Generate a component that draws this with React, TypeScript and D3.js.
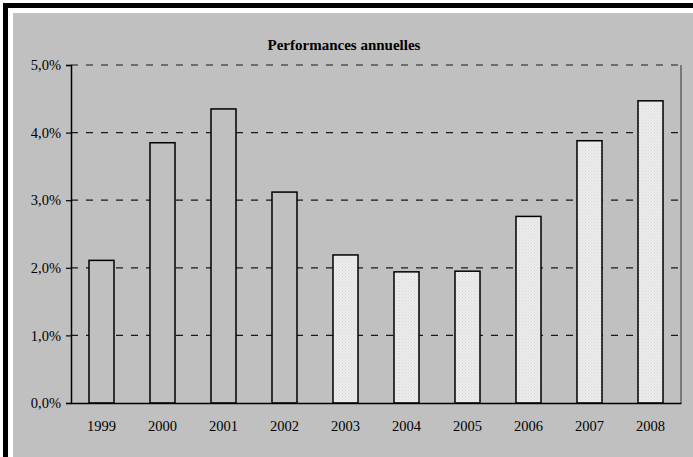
import * as d3 from "d3";
import { useEffect, useRef } from "react";

// Chart data
const years = ["1999", "2000", "2001", "2002", "2003", "2004", "2005", "2006", "2007", "2008"];
const performances = [2.11, 3.85, 4.35, 3.12, 2.19, 1.94, 1.95, 2.76, 3.88, 4.47];
const barStyle = ["plain", "plain", "plain", "plain", "dotted", "dotted", "dotted", "dotted", "dotted", "dotted"];
const yTicks = [0, 1, 2, 3, 4, 5];
const title = "Performances annuelles";

export default function App() {
  const svgRef = useRef<SVGSVGElement>(null);

  useEffect(() => {
    if (!svgRef.current) return;
    const svg = d3.select<SVGSVGElement, unknown>(svgRef.current);
    svg.selectAll("*").remove();

    const width = 693;
    const height = 457;
    const plot = { left: 71, right: 681, top: 65, bottom: 403 };
    const font = "'Liberation Serif', 'Times New Roman', serif";

    svg.attr("width", width).attr("height", height);

    // dotted fill for the light bars
    const defs = svg.append("defs");
    const pat = defs
      .append("pattern")
      .attr("id", "dots")
      .attr("width", 3)
      .attr("height", 3)
      .attr("patternUnits", "userSpaceOnUse");
    pat.append("rect").attr("width", 3).attr("height", 3).attr("fill", "#ececec");
    pat.append("rect").attr("x", 0).attr("y", 0).attr("width", 1).attr("height", 1).attr("fill", "#d6d6d6");
    pat.append("rect").attr("x", 1.5).attr("y", 1.5).attr("width", 1).attr("height", 1).attr("fill", "#dedede");

    // page + frame
    svg.append("rect").attr("width", width).attr("height", height).attr("fill", "#ffffff");
    svg
      .append("rect")
      .attr("x", 13)
      .attr("y", 13)
      .attr("width", width - 13)
      .attr("height", height - 13)
      .attr("fill", "#c0c0c0");
    svg
      .append("path")
      .attr("d", `M5.5,${height} V5.5 H${width}`)
      .attr("fill", "none")
      .attr("stroke", "#000")
      .attr("stroke-width", 5);

    const x = d3
      .scaleBand<string>()
      .domain(years)
      .range([plot.left, plot.right])
      .paddingInner(0.59)
      .paddingOuter(0.295);

    const y = d3.scaleLinear().domain([0, 5]).range([plot.bottom, plot.top]);

    // gridlines
    svg
      .append("g")
      .selectAll("line")
      .data(yTicks.filter((t) => t > 0))
      .enter()
      .append("line")
      .attr("x1", plot.left)
      .attr("x2", plot.right)
      .attr("y1", (d) => y(d))
      .attr("y2", (d) => y(d))
      .attr("stroke", "#1a1a1a")
      .attr("stroke-width", 1.2)
      .attr("stroke-dasharray", "7,8");

    // right border of plot area
    svg
      .append("line")
      .attr("x1", plot.right)
      .attr("x2", plot.right)
      .attr("y1", plot.top)
      .attr("y2", plot.bottom)
      .attr("stroke", "#4a4a4a")
      .attr("stroke-width", 1.2);

    // bars
    svg
      .append("g")
      .selectAll("rect")
      .data(performances)
      .enter()
      .append("rect")
      .attr("x", (_, i) => x(years[i])!)
      .attr("y", (d) => y(d))
      .attr("width", x.bandwidth())
      .attr("height", (d) => y(0) - y(d))
      .attr("fill", (_, i) => (barStyle[i] === "dotted" ? "url(#dots)" : "#c0c0c0"))
      .attr("stroke", "#000")
      .attr("stroke-width", 1.5);

    // y axis
    const yAxis = d3
      .axisLeft(y)
      .tickValues(yTicks)
      .tickSize(5)
      .tickPadding(5)
      .tickFormat((d) => (d as number).toFixed(1).replace(".", ",") + "%");
    const yG = svg.append("g").attr("transform", `translate(${plot.left},0)`).call(yAxis);
    yG.select(".domain").attr("stroke", "#000").attr("stroke-width", 1.5);
    yG.selectAll(".tick line").attr("stroke", "#000").attr("stroke-width", 1.2);
    yG.selectAll(".tick text")
      .attr("fill", "#000")
      .attr("font-size", "14.5px")
      .attr("font-family", font);

    // x axis
    const xAxis = d3.axisBottom(x).tickSize(0).tickPadding(18);
    const xG = svg.append("g").attr("transform", `translate(0,${plot.bottom})`).call(xAxis);
    xG.select(".domain").attr("stroke", "#000").attr("stroke-width", 1.5);
    xG.selectAll(".tick text")
      .attr("fill", "#000")
      .attr("font-size", "14.5px")
      .attr("font-family", font);

    // title
    svg
      .append("text")
      .attr("x", 344)
      .attr("y", 50)
      .attr("text-anchor", "middle")
      .attr("font-family", font)
      .attr("font-weight", "bold")
      .attr("font-size", "15px")
      .attr("fill", "#000")
      .text(title);
  }, []);

  return (
    <svg
      ref={svgRef}
      style={{ position: "absolute", left: 0, top: 0, display: "block" }}
    ></svg>
  );
}
